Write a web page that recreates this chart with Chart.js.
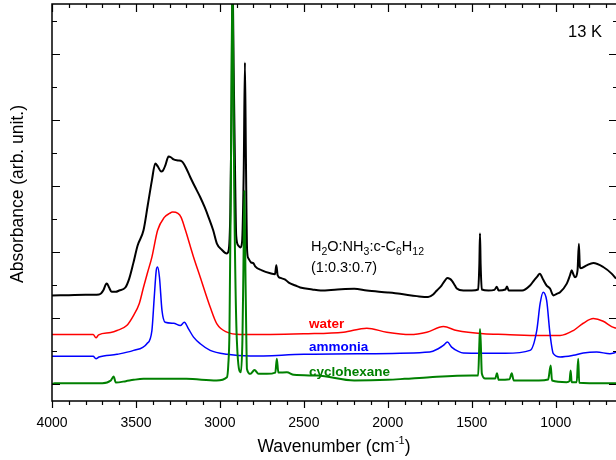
<!DOCTYPE html>
<html><head><meta charset="utf-8">
<script src="https://cdn.jsdelivr.net/npm/chart.js@4"></script>
<style>html,body{margin:0;padding:0;overflow:hidden;background:#fff}#wrap{width:620px;height:460px;position:relative}</style>
</head><body><div id="wrap"><canvas id="c"></canvas></div>
<script>
// ---- data (wavenumber in cm^-1, absorbance in arb. units) ----
const xTickLabels = [4000, 3500, 3000, 2500, 2000, 1500, 1000];

const mixtureWavenumbers = [4000,3900,3800,3720,3695,3680,3673,3660,3645,3620,3600,3563,3540,3516,3490,3455,3430,3405,3385,3370,3350,3340,3325,3306,3290,3276,3250,3226,3200,3177,3150,3117,3090,3068,3040,3018,2990,2960,2948,2938,2930,2925,2918,2910,2903,2890,2878,2868,2858,2851,2845,2838,2830,2815,2800,2790,2750,2700,2672,2664,2656,2640,2611,2590,2550,2522,2450,2400,2300,2200,2125,2000,1927,1827,1760,1730,1708,1680,1660,1645,1630,1619,1600,1589,1550,1500,1462,1455,1451,1447,1440,1400,1365,1351,1340,1300,1290,1280,1200,1153,1130,1110,1095,1075,1054,1034,1014,994,974,935,915,905,895,885,870,862,856,850,816,776,717,667,641];
const mixtureAbs = [2.69,2.70,2.71,2.72,2.84,3.02,3.05,2.93,2.80,2.80,2.84,2.93,3.20,3.66,4.20,4.66,5.41,6.17,6.68,6.59,6.44,6.46,6.62,6.89,6.86,6.80,6.77,6.74,6.53,6.27,5.99,5.66,5.35,5.06,4.66,4.26,4.08,3.96,4.05,5.20,8.50,12.5,9.50,6.50,4.50,4.20,4.14,4.30,6.50,9.73,6.80,4.05,3.81,3.69,3.66,3.57,3.45,3.36,3.33,3.60,3.30,3.22,3.17,3.08,2.99,2.93,2.87,2.84,2.87,2.89,2.84,2.78,2.74,2.67,2.64,2.72,2.84,2.99,3.14,3.22,3.19,3.14,2.99,2.90,2.84,2.84,2.87,3.60,4.56,3.60,2.87,2.84,2.86,2.95,2.84,2.87,2.96,2.84,2.84,2.99,3.14,3.26,3.35,3.17,2.99,2.90,2.69,2.74,2.79,3.04,3.30,3.45,3.33,3.24,3.45,4.25,3.55,3.51,3.60,3.67,3.55,3.35,3.20];

const waterWavenumbers = [4000,3800,3755,3738,3722,3650,3613,3555,3514,3480,3455,3430,3405,3371,3331,3300,3281,3250,3231,3205,3160,3117,3058,3018,2958,2880,2700,2500,2264,2125,2006,1867,1768,1669,1589,1431,1300,1093,974,895,836,776,717,667,641];
const waterAbs = [1.51,1.51,1.51,1.41,1.50,1.57,1.63,1.78,2.09,2.45,2.94,3.40,3.85,4.66,5.05,5.17,5.21,5.17,5.05,4.66,3.90,3.24,2.34,1.83,1.58,1.51,1.51,1.53,1.58,1.70,1.58,1.51,1.58,1.75,1.63,1.53,1.51,1.48,1.48,1.63,1.85,1.99,1.91,1.75,1.70];

const ammoniaWavenumbers = [4000,3800,3755,3738,3720,3613,3514,3435,3405,3391,3379,3371,3360,3345,3326,3276,3236,3212,3187,3157,3117,3058,2958,2818,2500,2125,1750,1700,1669,1645,1620,1580,1550,1300,1153,1113,1093,1075,1054,1034,1014,974,895,836,756,677,641];
const ammoniaAbs = [0.85,0.85,0.85,0.78,0.83,0.91,1.03,1.23,1.63,2.64,3.45,3.55,3.24,2.24,1.88,1.85,1.78,1.88,1.68,1.43,1.23,1.03,0.91,0.86,0.91,0.93,0.98,1.08,1.18,1.28,1.13,1.00,0.95,0.94,1.03,1.63,2.44,2.79,2.54,1.53,0.93,0.83,0.88,0.95,0.98,0.93,0.97];

const cyclohexaneWavenumbers = [4000,3985,3700,3650,3633,3620,3560,3514,3455,3200,3020,2958,2950,2943,2935,2925,2915,2899,2875,2866,2860,2854,2847,2842,2839,2818,2794,2770,2720,2670,2661,2652,2601,2560,2420,2200,2000,1900,1750,1500,1462,1455,1451,1446,1440,1420,1360,1350,1340,1275,1262,1250,1100,1045,1030,1022,935,918,911,905,875,866,860,800,700,641];
const cyclohexaneAbs = [0.00,0.04,0.04,0.12,0.24,0.06,0.10,0.14,0.17,0.17,0.12,0.22,0.60,1.63,6.0,12.5,6.0,1.33,0.37,1.33,3.5,5.86,3.0,1.2,0.47,0.32,0.44,0.32,0.32,0.36,0.78,0.36,0.37,0.29,0.27,0.12,0.14,0.17,0.22,0.27,0.27,1.2,1.68,1.2,0.33,0.18,0.18,0.34,0.14,0.16,0.34,0.12,0.12,0.15,0.57,0.12,0.07,0.10,0.42,0.07,0.07,0.78,0.05,0.04,0.04,0.04];

const seriesNames = ['cyclohexane', 'ammonia', 'water', 'H2O:NH3:c-C6H12'];
// -------------------------------------------------------------------------------

const pts = (xs, ys) => xs.map((w, i) => ({x: w, y: ys[i]}));
const FONT = "'Liberation Sans', Arial, sans-serif";

const decor = {
  id: 'decor',
  afterDatasetsDraw(chart) {
    const {ctx, chartArea: a, scales: {x, y}} = chart;
    ctx.save();
    ctx.strokeStyle = '#000';
    ctx.lineWidth = 1.5;
    ctx.strokeRect(a.left, a.top, a.right - a.left, a.bottom - a.top);
    ctx.lineWidth = 1.2;
    ctx.beginPath();
    for (let w = 700; w <= 4000; w += 100) {
      const px = Math.round(x.getPixelForValue(w)) + 0.5;
      const major = w % 500 === 0;
      ctx.moveTo(px, a.bottom); ctx.lineTo(px, a.bottom + (major ? 7 : 4));
      ctx.moveTo(px, a.top); ctx.lineTo(px, a.top + (major ? 8 : 4));
    }
    for (let v = 0; v <= 11; v++) {
      const py = Math.round(y.getPixelForValue(v)) + 0.5;
      const major = v % 2 === 0;
      ctx.moveTo(a.left, py); ctx.lineTo(a.left + (major ? 8 : 5), py);
      ctx.moveTo(a.right, py); ctx.lineTo(a.right - (major ? 8 : 4), py);
    }
    ctx.stroke();
    ctx.restore();
  },
  afterDraw(chart) {
    const ctx = chart.ctx;
    ctx.save();
    ctx.fillStyle = '#000';
    ctx.textBaseline = 'alphabetic';
    // x title with superscript
    const big = '17.5px ' + FONT, sup = '11px ' + FONT;
    ctx.font = big; const w1 = ctx.measureText('Wavenumber (cm').width, w3 = ctx.measureText(')').width;
    ctx.font = sup; const w2 = ctx.measureText('-1').width;
    let sx = 334 - (w1 + w2 + w3) / 2;
    ctx.font = big; ctx.fillText('Wavenumber (cm', sx, 452); sx += w1;
    ctx.font = sup; ctx.fillText('-1', sx, 444); sx += w2;
    ctx.font = big; ctx.fillText(')', sx, 452);
    // y title
    ctx.save();
    ctx.translate(23, 194); ctx.rotate(-Math.PI / 2);
    ctx.font = big; ctx.textAlign = 'center';
    ctx.fillText('Absorbance (arb. unit.)', 0, 0);
    ctx.restore();
    // 13 K
    ctx.font = '16.5px ' + FONT; ctx.textAlign = 'right';
    ctx.fillText('13 K', 602, 36.5);
    ctx.textAlign = 'left';
    // formula
    const parts = [['H',0],['2',1],['O:NH',0],['3',1],[':c-C',0],['6',1],['H',0],['12',1]];
    let fx = 311;
    for (const [t, s] of parts) {
      ctx.font = (s ? '10.5px ' : '14.5px ') + FONT;
      ctx.fillText(t, fx, s ? 254.5 : 250.5);
      fx += ctx.measureText(t).width;
    }
    ctx.font = '14.5px ' + FONT;
    ctx.fillText('(1:0.3:0.7)', 311, 271.5);
    // series labels
    ctx.font = 'bold 13.5px ' + FONT;
    ctx.fillStyle = '#ff0000'; ctx.fillText('water', 309, 327.5);
    ctx.fillStyle = '#0000ff'; ctx.fillText('ammonia', 309, 351);
    ctx.fillStyle = '#008000'; ctx.fillText('cyclohexane', 309, 376);
    ctx.restore();
  }
};

new Chart(document.getElementById('c'), {
  type: 'line',
  data: {
    datasets: [
      {label: seriesNames[0], data: pts(cyclohexaneWavenumbers, cyclohexaneAbs), borderColor: '#008000', borderWidth: 2},
      {label: seriesNames[1], data: pts(ammoniaWavenumbers, ammoniaAbs), borderColor: '#0000ff', borderWidth: 1.5},
      {label: seriesNames[2], data: pts(waterWavenumbers, waterAbs), borderColor: '#ff0000', borderWidth: 1.5},
      {label: seriesNames[3], data: pts(mixtureWavenumbers, mixtureAbs), borderColor: '#000000', borderWidth: 2}
    ]
  },
  options: {
    responsive: true, maintainAspectRatio: false, animation: false,
    layout: {padding: {top: 4, right: 3, left: 0, bottom: 0}},
    elements: {point: {radius: 0}, line: {cubicInterpolationMode: 'monotone', fill: false}},
    plugins: {legend: {display: false}, tooltip: {enabled: false}},
    scales: {
      x: {
        type: 'linear', reverse: true, min: 635, max: 4000,
        grid: {display: false, drawTicks: false}, border: {display: false},
        ticks: {color: '#000', font: {family: FONT, size: 14}, padding: 14, autoSkip: false, maxRotation: 0,
                callback: v => String(v)},
        afterBuildTicks: s => { s.ticks = xTickLabels.map(v => ({value: v})); },
        afterFit: s => { s.height = 59; }
      },
      y: {
        type: 'linear', min: -0.5, max: 11.5,
        grid: {display: false}, border: {display: false},
        ticks: {display: false},
        afterFit: s => { s.width = 52; }
      }
    }
  },
  plugins: [decor]
});
</script>
</body></html>
